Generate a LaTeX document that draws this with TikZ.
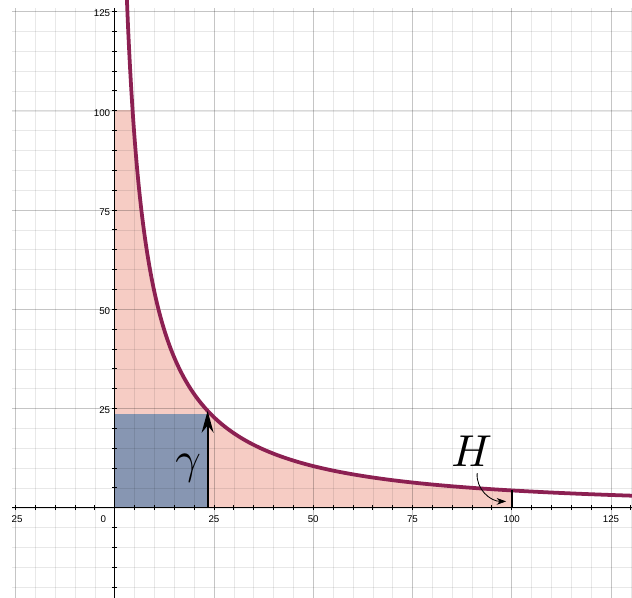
\documentclass[tikz,border=0pt]{standalone}
\usepackage{amsmath}
\usepackage{amssymb}
\usepackage{fontspec}
\setsansfont{Liberation Sans}
\usetikzlibrary{arrows.meta}

\definecolor{hypcolor}{RGB}{140,32,82}
\definecolor{areapink}{RGB}{246,204,196}
\definecolor{areablue}{RGB}{135,150,178}

\newcommand{\hyp}[1]{exp(5.388-0.3597*ln(#1)-0.1065*ln(#1)*ln(#1))}

\tikzset{
  minorline/.style={black, draw opacity=0.09, line width=0.35pt},
  majorline/.style={black, draw opacity=0.15, line width=0.45pt},
  axisline/.style={black, line width=0.6pt},
  ticklabel/.style={font=\sffamily\fontsize{7}{8}\selectfont, inner sep=0.5pt},
  biglabel/.style={scale=3.2, inner sep=0pt},
  hypline/.style={hypcolor, line width=2.7pt},
}

\begin{document}
\begin{tikzpicture}[x=1mm, y=1mm, >=stealth]
\useasboundingbox (-28.9,-22.7) rectangle (130.3,127.9);

% shaded regions
\begin{scope}
  \clip (0,0) rectangle (100,100);
  \fill[areapink] (0,0) -- (0,131) -- plot[domain=2.95:131, samples=300, smooth] (\x,{\hyp{\x}}) -- (131,0) -- cycle;
\end{scope}
\fill[areablue] (0,0) rectangle (23.4,23.6);

% grid
\foreach \i in {-25,-20,...,130}
  \draw[minorline] (\i,-22.7) -- (\i,125.8);
\foreach \j in {-20,-15,...,125}
  \draw[minorline] (-25.8,\j) -- (130.3,\j);
\foreach \i in {-25,25,50,75,100,125}
  \draw[majorline] (\i,-22.7) -- (\i,125.8);
\foreach \j in {25,50,75,100,125}
  \draw[majorline] (-25.8,\j) -- (130.3,\j);

% axes and ticks
\draw[axisline] (-25.8,0) -- (131,0);
\draw[axisline] (0,-23) -- (0,125.8);
\foreach \i in {-25,-20,...,130}
  \draw[axisline] (\i,-0.6) -- (\i,0.6);
\foreach \j in {-20,-15,...,125}
  \draw[axisline] (-0.6,\j) -- (0.6,\j);

\foreach \i in {25,50,75,100,125}
  \node[ticklabel] (xlab\i) at (\i,-2.8) {\i};
\node[ticklabel] (xlabneg) at (-24.6,-2.8) {25};
\node[ticklabel] (origin) at (-2.9,-2.8) {0};
\foreach \j in {25,50,75,100,125}
  \node[ticklabel, anchor=east] (ylab\j) at (-0.9,\j-0.5) {\j};
\node[font=\fontsize{5}{6}\selectfont] (xname) at (131.2,-5.6) {$x$};

% curve
\draw[hypline] plot[domain=2.95:131, samples=300, smooth] (\x,{\hyp{\x}});

% gamma
\coordinate (gbase) at (23.4,0);
\coordinate (gtip) at (23.4,{\hyp{23.4}});
\draw[-{Stealth[length=5.5mm,width=3mm]}, line width=1.3pt] (gbase) -- (gtip);
\node[biglabel] (gamma) at (18.5,10.0) {$\gamma$};

% H
\coordinate (hbase) at (100,0);
\coordinate (htop) at (100,{\hyp{100}});
\draw[line width=1.2pt] (hbase) -- (htop);
\node[biglabel] (hlab) at (89.9,14.2) {$H$};
\coordinate (hstart) at (91.3,8.7);
\coordinate (hend) at (98.6,1.6);
\draw[-{Stealth[length=2.4mm,width=1.7mm]}, line width=0.6pt] (hstart) to[out=-95,in=180] (hend);
\end{tikzpicture}
\end{document}
